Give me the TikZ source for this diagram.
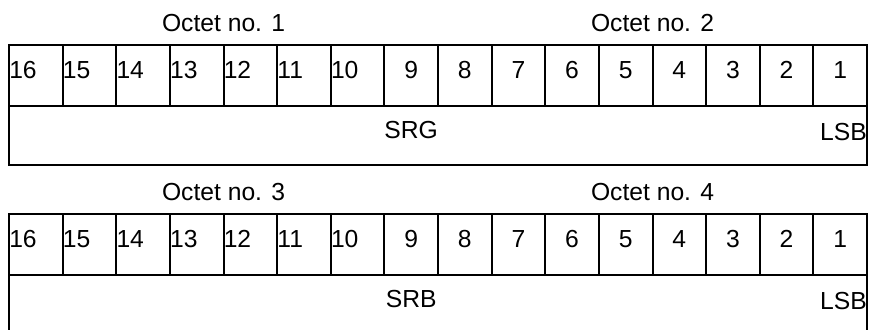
\documentclass[tikz,border=0pt]{standalone}
\usepackage{fontspec}
\setmainfont{Liberation Sans}
\usepackage{tikz}
\usetikzlibrary{positioning}
\newcommand{\RegTable}[5]{%
  \begin{scope}[shift={(0,#1)}]
    \draw[frameline] (9,0) rectangle (867,120);
    \draw[frameline] (9,61)--(867,61);
    \foreach \k in {1,...,15} \draw[frameline] (9+\k*53.625,0)--(9+\k*53.625,61);
    \foreach \b in {16,...,1}{%
      \pgfmathtruncatemacro{\k}{16-\b}
      \ifnum\b>9
        \node[regtext,anchor=west] (#2b\b) at (9+\k*53.625,25) {\b};
      \else
        \node[regtext] (#2b\b) at (9+\k*53.625+26.8,25) {\b};
      \fi}
    \node[regtext] (#2octA) at (223.5,-22) {#3};
    \node[regtext] (#2octB) at (652.5,-22) {#4};
    \node[regtext] (#2name) at (411.2,85.5) {#5};
    \node[regtext,anchor=east] (#2lsb) at (867,87) {LSB};
  \end{scope}}

\begin{document}
\begin{tikzpicture}[x=0.75pt,y=-0.75pt,
  frameline/.style={line width=1.5pt},
  regtext/.style={inner sep=0pt,font=\fontsize{18.5}{22}\selectfont}]
  \useasboundingbox (0,0) rectangle (876,329);
  \RegTable{45}{g}{Octet no. 1}{Octet no. 2}{SRG}
  \RegTable{214}{r}{Octet no. 3}{Octet no. 4}{SRB}
\end{tikzpicture}
\end{document}
